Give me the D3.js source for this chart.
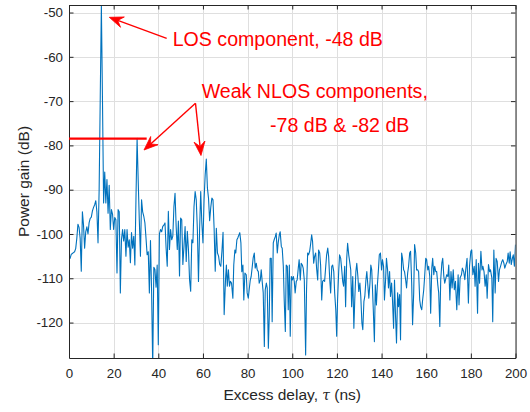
<!DOCTYPE html>
<html><head><meta charset="utf-8">
<script src="https://cdn.jsdelivr.net/npm/d3@7"></script>
<style>body{margin:0;background:#fff}svg{display:block}</style>
</head><body>
<svg id="chart" width="530" height="412"></svg>
<script>
// ---- data ----
const delayNs = [
0,0.5,1,1.5,2,2.5,3,3.5,4,4.5,5,5.5,6,6.5,7,7.5,8,8.5,9,9.5,
10,10.5,11,11.5,12,12.5,13,13.5,14,14.5,15,15.5,16,16.5,17,17.5,18,18.5,19,19.5,
20,20.5,21,21.5,22,22.5,23,23.5,24,24.5,25,25.5,26,26.5,27,27.5,28,28.5,29,29.5,
30,30.5,31,31.5,32,32.5,33,33.5,34,34.5,35,35.5,36,36.5,37,37.5,38,38.5,39,39.5,
40,40.5,41,41.5,42,42.5,43,43.5,44,44.5,45,45.5,46,46.5,47,47.5,48,48.5,49,49.5,
50,50.5,51,51.5,52,52.5,53,53.5,54,54.5,55,55.5,56,56.5,57,57.5,58,58.5,59,59.5,
60,60.5,61,61.5,62,62.5,63,63.5,64,64.5,65,65.5,66,66.5,67,67.5,68,68.5,69,69.5,
70.1,70.5,70.9,71.4,71.9,72.3,72.8,73.4,73.8,74.3,74.7,75.2,75.6,76.1,76.5,77,77.4,77.9,78.3,78.8,
79.4,79.8,80.3,80.7,81.2,81.6,82.1,82.5,83,83.4,83.9,84.3,84.8,85.2,85.7,86.1,86.6,87,87.5,87.9,
88.4,88.8,89.3,89.7,90.1,90.6,91,91.5,91.9,92.4,92.8,93.3,93.7,94.2,94.6,95.1,95.5,96,96.4,96.9,
97.3,97.8,98.2,98.7,99.1,99.6,100,100.5,
100.9,101.3,101.8,102.2,102.7,103.1,103.6,104,104.5,104.9,105.4,106,106.4,106.9,107.3,107.8,108.2,108.7,109.1,109.6,
110,110.5,110.9,111.4,111.8,112.3,112.7,113.2,113.6,114.1,114.5,115,115.4,115.9,116.3,116.8,117.2,117.7,118.1,118.6,
119,119.5,119.9,120.3,120.8,121.2,121.7,122.1,122.6,123,123.5,123.9,124.4,124.8,125.3,125.7,126.2,126.6,127.1,127.6,
128,128.5,128.9,129.4,129.8,130.3,130.7,131.2,131.6,132.1,132.5,133,133.4,133.9,134.3,134.8,
135.2,135.6,135.9,136.3,136.8,137.2,137.7,138.1,138.6,139,139.5,140,140.4,140.9,141.3,141.8,142.2,142.7,143.1,143.6,
144,144.5,144.9,145.4,145.8,146.3,146.7,147.2,147.6,148.1,148.5,149,149.4,149.9,150.3,150.8,151.2,151.7,152.1,152.6,
153,153.5,153.9,154.4,154.8,155.3,155.7,156.2,156.6,157.1,157.5,158,158.4,158.9,159.3,159.8,160.2,160.7,161.1,161.6,
162,162.5,162.9,163.4,163.8,164.3,164.7,165.2,165.6,166.1,166.5,167,167.4,167.9,168.3,168.8,169.2,169.7,170.1,170.6,
171.1,171.6,172.1,172.6,173.1,173.7,174.3,174.7,175.2,175.8,176.2,176.8,177.3,177.7,178.3,178.9,179.4,180,180.4,180.9,
181.5,181.9,182.4,183,183.4,183.9,184.5,185,185.4,185.9,186.4,186.9,187.3,187.9,188.4,188.8,189.4,189.8,190.3,190.9,
191.3,191.8,192.4,192.8,193.3,193.9,194.3,194.8,195.2,195.7,196.3,196.7,197.2,197.6,198.1,198.6,199,199.5,200
];
const gainDb = [
-105,-105.5,-104.6,-104.4,-104.2,-104,-103.3,-101,-97.8,-98.5,-101,-108.4,-95,-98,-103.2,-99.5,-98.4,-100,-97.5,-96.5,
-96.2,-94.8,-94,-93.4,-92.5,-95,-102,-90,-69,-48.3,-70,-93,-86,-93,-87.7,-95.3,-89,-99,-94.5,-95.5,
-99,-96.3,-96.8,-108.8,-94.5,-95,-113.3,-101.3,-99,-101.6,-99,-105,-99,-103,-101.3,-106.5,-99.7,-103.2,-100.5,-107,
-92,-78.4,-88,-97,-105,-92.3,-95,-96,-97.5,-101,-104.7,-104,-113.3,-101.5,-113,-130,-107.5,-108,-112,-107,
-125,-100,-99,-99.5,-98.3,-98,-97.5,-103.2,-107.3,-94.9,-103.5,-99,-101.3,-100.5,-93.8,-90.8,-98.3,-103.5,-97.1,-109.5,
-96.4,-96.8,-106.9,-102.8,-98.3,-106.2,-99.4,-103.5,-110.3,-112.9,-101.3,-102,-93.8,-90.4,-92.3,-99,-110.7,-99,-90.4,-97.5,
-102,-92.3,-86.6,-83.1,-89.6,-92,-97,-94,-91.9,-92.3,-98.7,-108.4,-98.7,-104.3,-105,-106.9,-107.3,-103.9,-99.6,-118.2,
-110.4,-107,-111.8,-108.1,-111.8,-110.7,-111.1,-114.5,-107,-103.6,-104.3,-101.3,-100.9,-100.2,-99.7,-102,-108.5,-107,-114.9,-108.8,
-109.2,-113.3,-114.5,-112.6,-110.4,-109.6,-107.3,-105.4,-104.3,-107.7,-106.6,-108.1,-108.5,-111.1,-110.4,-108.1,-111.1,-113.3,-125.4,-112.6,
-111.1,-112.2,-125.8,-118.6,-105.5,-105.5,-119.8,-102,-101.3,-100.6,-99.8,-104.3,-102,-100.2,-99.5,-102.8,-103.2,-107.3,-114.9,-122,
-107,-107.3,-117.1,-107,-123.1,-109.6,-110.4,-109.6,
-110.7,-113.3,-110.7,-110.4,-107.7,-105.8,-110.4,-106.6,-107,-107.7,-110.4,-127.3,-112.6,-104.3,-104.7,-103.9,-102.4,-100.2,-101.7,-106.6,
-105.1,-104.3,-107.7,-110.4,-103.6,-104.3,-107,-114.9,-110.7,-110.4,-110.7,-107.3,-104.7,-103.2,-105.1,-110.4,-113.3,-107.3,-107,-108.5,
-113.3,-117.1,-123.1,-114.9,-108.5,-104.7,-105.5,-107.7,-110.7,-111.8,-107.3,-116.4,-105.5,-102.1,-104.7,-106.2,-108.1,-116.4,-109.6,-121.3,
-114.9,-108.5,-106.6,-109.6,-113,-111.1,-114.1,-120.1,-121.6,-115.2,-114.1,-110.4,-108.5,-111.8,-114.5,-111.1,
-107,-108.1,-111.8,-117.1,-124.3,-111.5,-116,-111.8,-108.1,-104.7,-104.3,-108.1,-105.8,-107.3,-114.9,-110.4,-105.5,-108.1,-112.2,-108.5,
-114.1,-111.1,-114.9,-121.3,-110.4,-119,-124.6,-113.3,-116.4,-113.7,-123.9,-104.3,-105.5,-108.1,-108.5,-110.4,-112.2,-108.8,-107.3,-104.3,
-103.9,-111.1,-120.5,-113.3,-102.4,-104.3,-108.1,-108.1,-108.5,-114.9,-116.4,-117.1,-114.9,-112.6,-109.6,-105.5,-105.8,-108.1,-107.3,-109.6,
-117.9,-107.7,-105.5,-109.2,-107.3,-108.5,-108.5,-111.5,-113.3,-120.9,-110.4,-106.6,-105.5,-109.6,-111.1,-110,-109.2,-109.6,-107,-114.9,
-108.5,-112.2,-108.1,-112.6,-110.7,-117.1,-109.2,-116,-109.9,-109.2,-107.7,-108.5,-110.3,-108.1,-105.5,-115.6,-107.3,-103.9,-103.6,-109.2,
-107.3,-111.8,-105.8,-117.9,-106.6,-111.1,-103.9,-108.1,-107.3,-108.5,-111.8,-109.2,-114.5,-106.9,-108.5,-108.1,-109.9,-119.8,-103.6,-113.3,
-105.5,-106.2,-110.7,-108.1,-107.3,-106.2,-105.8,-106.6,-107.7,-106.9,-106.2,-104.3,-106.6,-104,-106.9,-105.5,-104.7,-107.3,-102.4
];
const xTicks = [0,20,40,60,80,100,120,140,160,180,200];
const yTicks = [-120,-110,-100,-90,-80,-70,-60,-50];
const xDomain = [0,200];
const yDomain = [-128,-48.3];
const xLabel = "Excess delay, ";
const xLabelSym = "\u03C4";
const xLabelUnit = " (ns)";
const yLabel = "Power gain (dB)";
// annotation anchors in data units [delay ns, gain dB]
const losText = "LOS component, -48 dB";
const losArrow = {from:[43.76,-55.82], to:[18.05,-51.08], text:[46.45,-57.49]};
const nlosText1 = "Weak NLOS components,";
const nlosText2 = "-78 dB & -82 dB";
const nlosArrows = {from:[56.66,-70.49], to:[[33.59,-81.04],[59.12,-82.28]], text1:[59.44,-69.23], text2:[90.03,-76.91]};
const refLevel = {gain:-78.49, fromDelay:0, toDelay:34.8};

// ---- drawing ----
const svg = d3.select("#chart");
const L = 69, R = 515.5, T = 5, B = 358;
const x = d3.scaleLinear().domain(xDomain).range([L,R]);
const y = d3.scaleLinear().domain(yDomain).range([B,T]);
const FONT = "'Liberation Sans', Arial, Helvetica, sans-serif";
const AX = "#262626";

svg.append("rect").attr("x",0).attr("y",0).attr("width",530).attr("height",412).attr("fill","#fff");

// grid
const grid = svg.append("g").attr("stroke","#dfdfdf").attr("stroke-width",1);
grid.selectAll("line.gx").data(xTicks).join("line").attr("class","gx")
  .attr("x1",d=>Math.round(x(d))+0.5).attr("x2",d=>Math.round(x(d))+0.5).attr("y1",T).attr("y2",B);
grid.selectAll("line.gy").data(yTicks).join("line").attr("class","gy")
  .attr("y1",d=>Math.round(y(d))+0.5).attr("y2",d=>Math.round(y(d))+0.5).attr("x1",L).attr("x2",R);

// data line
svg.append("clipPath").attr("id","clip").append("rect")
  .attr("x",L).attr("y",T).attr("width",R-L).attr("height",B-T);
const pts = delayNs.map((d,i)=>[d,gainDb[i]]);
svg.append("path").datum(pts).attr("clip-path","url(#clip)")
  .attr("fill","none").attr("stroke","#0072BD").attr("stroke-width",1.1).attr("stroke-linejoin","round")
  .attr("d", d3.line().x(d=>x(d[0])).y(d=>y(d[1])));

// axes
function styleAxis(g){
  g.select(".domain").attr("stroke",AX).attr("stroke-width",1);
  g.selectAll(".tick line").attr("stroke",AX).attr("stroke-width",1);
  g.selectAll(".tick text").attr("fill",AX).attr("font-family",FONT).attr("font-size","13.3px");
}
svg.append("g").attr("transform",`translate(0,${B})`)
  .call(d3.axisBottom(x).tickValues(xTicks).tickSizeInner(-4.5).tickSizeOuter(0).tickPadding(10.6).tickFormat(d3.format("d")))
  .call(styleAxis);
svg.append("g").attr("transform",`translate(0,${T})`)
  .call(d3.axisTop(x).tickValues(xTicks).tickSizeInner(-4.5).tickSizeOuter(0).tickFormat(""))
  .call(styleAxis);
svg.append("g").attr("transform",`translate(${L},0)`)
  .call(d3.axisLeft(y).tickValues(yTicks).tickSizeInner(-4.5).tickSizeOuter(0).tickPadding(6).tickFormat(d=>String(d)))
  .call(styleAxis);
svg.append("g").attr("transform",`translate(${R},0)`)
  .call(d3.axisRight(y).tickValues(yTicks).tickSizeInner(-4.5).tickSizeOuter(0).tickFormat(""))
  .call(styleAxis);
svg.selectAll(".tick text").each(function(){ const t=d3.select(this); t.text(t.text().replace("\u2212","-")); });

// axis labels
const xl = svg.append("text").attr("x",(L+R)/2).attr("y",400).attr("text-anchor","middle")
  .attr("font-family",FONT).attr("font-size","15.5px").attr("fill",AX);
xl.append("tspan").text(xLabel);
xl.append("tspan").attr("font-style","italic").attr("font-family","'DejaVu Serif', serif").attr("font-size","14px").text(xLabelSym);
xl.append("tspan").text(xLabelUnit);
svg.append("text").attr("transform",`translate(28.5,${(T+B)/2}) rotate(-90)`).attr("text-anchor","middle")
  .attr("font-family",FONT).attr("font-size","15.5px").attr("fill",AX).text(yLabel);

// annotations
const RED = "#ff0000";
const ann = svg.append("g");
ann.append("line").attr("x1",x(refLevel.fromDelay)).attr("x2",x(refLevel.toDelay))
  .attr("y1",y(refLevel.gain)).attr("y2",y(refLevel.gain)).attr("stroke",RED).attr("stroke-width",2.2);

function arrow(from,to){
  const x0=x(from[0]), y0=y(from[1]), x1=x(to[0]), y1=y(to[1]);
  const dx=x1-x0, dy=y1-y0, len=Math.hypot(dx,dy), ux=dx/len, uy=dy/len, px=-uy, py=ux;
  const HL=14, HW=5.5, NOTCH=9;
  ann.append("line").attr("x1",x0).attr("y1",y0).attr("x2",x1-ux*NOTCH).attr("y2",y1-uy*NOTCH)
    .attr("stroke",RED).attr("stroke-width",1.4);
  const p = [[x1,y1],[x1-ux*HL+px*HW,y1-uy*HL+py*HW],[x1-ux*NOTCH,y1-uy*NOTCH],[x1-ux*HL-px*HW,y1-uy*HL-py*HW]];
  ann.append("path").attr("d","M"+p.map(q=>q.join(",")).join("L")+"Z").attr("fill",RED).attr("stroke",RED).attr("stroke-width",0.8);
}
arrow(losArrow.from, losArrow.to);
nlosArrows.to.forEach(t=>arrow(nlosArrows.from, t));

function label(pos, txt){
  ann.append("text").attr("x",x(pos[0])).attr("y",y(pos[1])).attr("font-family",FONT)
    .attr("font-size","19.6px").attr("fill",RED).text(txt);
}
label(losArrow.text, losText);
label(nlosArrows.text1, nlosText1);
label(nlosArrows.text2, nlosText2);
</script>
</body></html>
